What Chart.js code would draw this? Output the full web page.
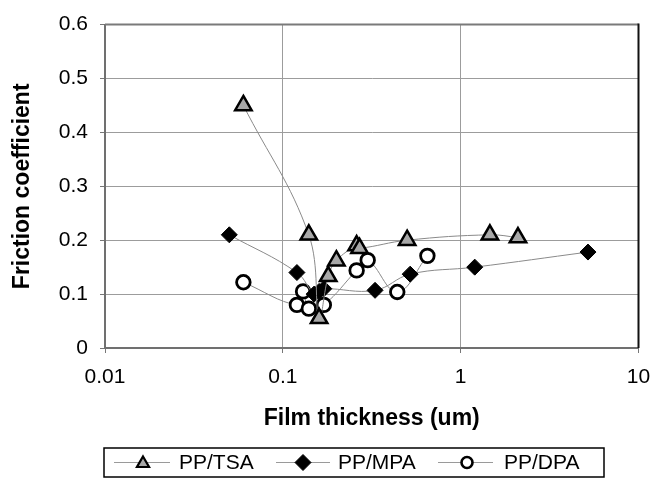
<!DOCTYPE html>
<html><head><meta charset="utf-8">
<script src="https://cdn.jsdelivr.net/npm/chart.js@4.4.1/dist/chart.umd.min.js"></script>
<style>html,body{margin:0;padding:0;background:#fff}canvas{display:block}</style>
</head><body>
<canvas id="c" width="667" height="483"></canvas>
<script>
// ---- data ----
const xTicks = [0.01, 0.1, 1, 10];
const xTickLabels = ['0.01', '0.1', '1', '10'];
const yTicks = [0, 0.1, 0.2, 0.3, 0.4, 0.5, 0.6];
const yTickLabels = ['0', '0.1', '0.2', '0.3', '0.4', '0.5', '0.6'];
const seriesNames = ['PP/TSA', 'PP/MPA', 'PP/DPA'];

const tsaX = [0.06, 0.14, 0.16, 0.18, 0.2, 0.26, 0.27, 0.5, 1.46, 2.1];
const tsaY = [0.45, 0.21, 0.055, 0.133, 0.162, 0.19, 0.185, 0.2, 0.21, 0.205];

const mpaX = [0.05, 0.12, 0.15, 0.16, 0.17, 0.33, 0.52, 1.2, 5.2];
const mpaY = [0.21, 0.14, 0.1, 0.105, 0.11, 0.107, 0.137, 0.15, 0.178];

const dpaX = [0.06, 0.12, 0.13, 0.14, 0.17, 0.26, 0.3, 0.44, 0.65];
const dpaY = [0.122, 0.08, 0.105, 0.073, 0.08, 0.144, 0.163, 0.104, 0.171];

const xTitle = 'Film thickness (um)';
const yTitle = 'Friction coefficient';

const pts = (xs, ys) => xs.map((x, i) => ({ x: x, y: ys[i] }));
const FONT = "'Liberation Sans', Arial, sans-serif";

const LINE = '#8a8a8a';
const TRI_FILL = '#a8a8a8';

const frame = {
  id: 'frame',
  beforeDatasetsDraw(chart) {
    const a = chart.chartArea, ctx = chart.ctx;
    ctx.save();
    ctx.lineWidth = 2;
    ctx.strokeStyle = '#7a7a7a';
    ctx.beginPath(); ctx.moveTo(a.left, a.top); ctx.lineTo(a.right, a.top); ctx.stroke();
    ctx.strokeStyle = '#111';
    ctx.beginPath(); ctx.moveTo(a.right, a.top - 1); ctx.lineTo(a.right, a.bottom); ctx.stroke();
    ctx.restore();
  }
};

function tri(ctx, x, y, r) {
  const s = Math.sin(Math.PI / 3) * r;
  ctx.beginPath(); ctx.moveTo(x, y - r); ctx.lineTo(x + s, y + r / 2); ctx.lineTo(x - s, y + r / 2); ctx.closePath();
}
function dia(ctx, x, y, r) {
  ctx.beginPath(); ctx.moveTo(x - r, y); ctx.lineTo(x, y - r); ctx.lineTo(x + r, y); ctx.lineTo(x, y + r); ctx.closePath();
}

const legendBox = {
  id: 'legendBox',
  afterDraw(chart) {
    const ctx = chart.ctx;
    ctx.save();
    const bx = 104, by = 448, bw = 500, bh = 29;
    ctx.lineWidth = 1.5; ctx.strokeStyle = '#000';
    ctx.strokeRect(bx, by, bw, bh);
    const cy = by + bh / 2;
    const items = [
      { l: 114, r: 170, m: 143, t: 179, kind: 'tri' },
      { l: 276, r: 330, m: 303, t: 338, kind: 'dia' },
      { l: 438, r: 493, m: 467, t: 504, kind: 'cir' }
    ];
    items.forEach((it, i) => {
      ctx.strokeStyle = '#9a9a9a'; ctx.lineWidth = 1;
      ctx.beginPath(); ctx.moveTo(it.l, cy); ctx.lineTo(it.r, cy); ctx.stroke();
      ctx.strokeStyle = '#000';
      if (it.kind === 'tri') {
        tri(ctx, it.m, cy + 1, 7); ctx.fillStyle = TRI_FILL; ctx.fill(); ctx.lineWidth = 2.2; ctx.stroke();
      } else if (it.kind === 'dia') {
        dia(ctx, it.m, cy, 8); ctx.fillStyle = '#000'; ctx.fill(); ctx.lineWidth = 1; ctx.stroke();
      } else {
        ctx.beginPath(); ctx.arc(it.m, cy, 5.5, 0, Math.PI * 2); ctx.fillStyle = '#fff'; ctx.fill(); ctx.lineWidth = 2.6; ctx.stroke();
      }
      ctx.fillStyle = '#000';
      ctx.font = '21px ' + FONT;
      ctx.textBaseline = 'middle'; ctx.textAlign = 'left';
      ctx.fillText(seriesNames[i], it.t, cy + 1);
    });
    ctx.restore();
  }
};

new Chart(document.getElementById('c'), {
  type: 'scatter',
  data: {
    datasets: [
      {
        label: seriesNames[0], data: pts(tsaX, tsaY), showLine: true, tension: 0.4,
        borderColor: LINE, borderWidth: 1,
        pointStyle: 'triangle', pointRadius: 9.5, pointBackgroundColor: TRI_FILL,
        pointBorderColor: '#000', pointBorderWidth: 2.5
      },
      {
        label: seriesNames[1], data: pts(mpaX, mpaY), showLine: true, tension: 0.4,
        borderColor: LINE, borderWidth: 1,
        pointStyle: 'rectRot', pointRadius: 8, pointBackgroundColor: '#000',
        pointBorderColor: '#000', pointBorderWidth: 1
      },
      {
        label: seriesNames[2], data: pts(dpaX, dpaY), showLine: true, tension: 0.4,
        borderColor: LINE, borderWidth: 1,
        pointStyle: 'circle', pointRadius: 6.8, pointBackgroundColor: '#fff',
        pointBorderColor: '#000', pointBorderWidth: 2.8
      }
    ]
  },
  options: {
    responsive: false,
    animation: false,
    devicePixelRatio: 1,
    events: [],
    layout: { padding: { top: 20, right: 28.5, bottom: 43, left: 0 } },
    plugins: { legend: { display: false }, tooltip: { enabled: false } },
    scales: {
      x: {
        type: 'logarithmic', min: 0.01, max: 10,
        afterBuildTicks: (s) => { s.ticks = xTicks.map(v => ({ value: v, major: true })); },
        afterFit: (s) => { s.height = 92; },
        ticks: {
          autoSkip: false, maxRotation: 0, padding: 12, color: '#000',
          font: { family: FONT, size: 21 },
          callback: (v) => { const i = xTicks.indexOf(v); return i >= 0 ? xTickLabels[i] : ''; }
        },
        grid: {
          color: '#9c9c9c', lineWidth: 1, borderDash: [2, 2],
          tickLength: 5, tickColor: '#777', tickBorderDash: []
        },
        border: { display: true, color: '#707070', width: 2 },
        title: {
          display: true, text: xTitle, color: '#000',
          font: { family: FONT, size: 23, weight: 'bold' },
          padding: { top: 0, bottom: 8 }
        }
      },
      y: {
        type: 'linear', min: 0, max: 0.6,
        afterBuildTicks: (s) => { s.ticks = yTicks.map(v => ({ value: v })); },
        afterFit: (s) => { s.width = 105; },
        ticks: {
          padding: 12, color: '#000',
          font: { family: FONT, size: 21 },
          callback: (v) => { const i = yTicks.findIndex(t => Math.abs(t - v) < 1e-9); return i >= 0 ? yTickLabels[i] : ''; }
        },
        grid: {
          color: '#9c9c9c', lineWidth: 1, borderDash: [2, 2],
          tickLength: 5, tickColor: '#777', tickBorderDash: []
        },
        border: { display: true, color: '#707070', width: 2 },
        title: {
          display: true, text: yTitle, color: '#000',
          font: { family: FONT, size: 23, weight: 'bold' },
          padding: { top: 9, bottom: 0 }
        }
      }
    }
  },
  plugins: [frame, legendBox]
});
</script>
</body></html>
